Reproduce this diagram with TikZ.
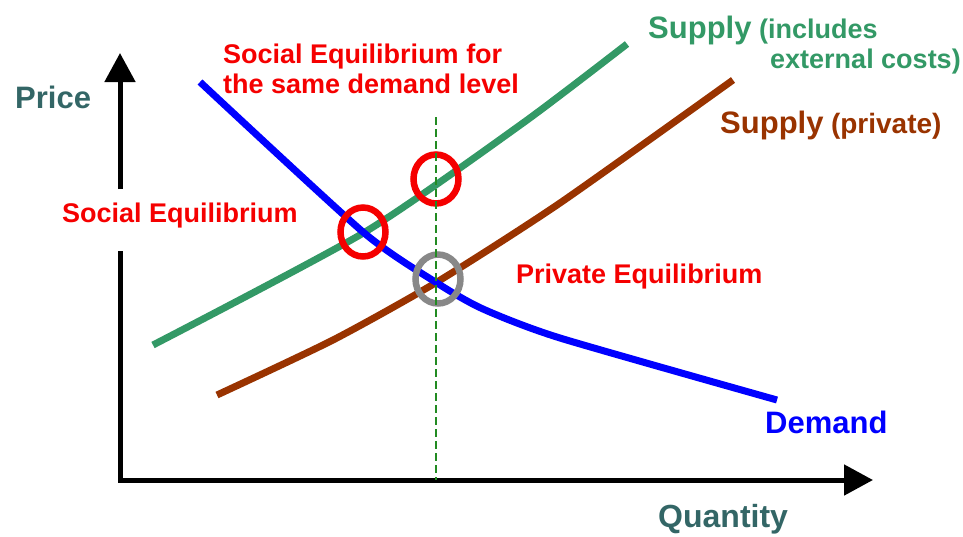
\documentclass[tikz,border=0pt]{standalone}
\usepackage{fontspec}
\setmainfont{Liberation Sans}
\usetikzlibrary{arrows.meta,shapes.geometric}
\definecolor{socgreen}{HTML}{339966}
\definecolor{privbrown}{HTML}{993300}
\definecolor{axislabel}{HTML}{336666}
\definecolor{eqred}{HTML}{F50000}
\definecolor{dashgreen}{HTML}{228B22}
\definecolor{demblue}{HTML}{0000FF}
\definecolor{ringgray}{HTML}{888888}
\begin{document}
\begin{tikzpicture}[x=1pt,y=-1pt,
  lbl/.style={inner sep=0pt, anchor=base west, font=\bfseries\fontsize{27}{30}\selectfont},
  biglbl/.style={inner sep=0pt, anchor=base west, font=\bfseries\fontsize{31}{36}\selectfont},
  curve/.style={line width=7pt, line cap=butt, line join=round},
  axis/.style={line width=5pt, line join=miter, -{Triangle[length=29pt,width=30pt]}},
  ring/.style={draw, ellipse, line width=6.5pt, minimum width=45pt, minimum height=49pt, inner sep=0pt}]
\useasboundingbox (0,0) rectangle (963,536);
% axes
\coordinate (O) at (120,480);
\coordinate (ygapbot) at (120,251);
\coordinate (ygaptop) at (120,189);
\coordinate (ytip) at (120,53);
\coordinate (xtip) at (873,480);
\draw[axis] (ygapbot) -- (O) -- (xtip);
\draw[axis] (ygaptop) -- (ytip);
% curves
\draw[curve, socgreen] plot[smooth, tension=0.4] coordinates {(153,345) (365,232) (523,123) (627,44)};
\draw[curve, privbrown] plot[smooth, tension=0.4] coordinates {(217,395) (333,340) (437,282) (560,203) (733,80)};
\draw[curve, demblue] plot[smooth, tension=0.4] coordinates {(200,82) (363,232) (437,283) (483,309) (560,338) (777,400)};
% rings
\node[ring, eqred] (socsame) at (436,179) {};
\node[ring, eqred] (soc) at (363,232) {};
\node[ring, ringgray] (priv) at (438,279) {};
% dashed quantity line
\coordinate (dtop) at (436,117);
\coordinate (dbot) at (436,480);
\draw[dashgreen, line width=2pt, dash pattern=on 8pt off 4pt] (dtop) -- (dbot);
% labels
\node[biglbl, axislabel] (price) at (15,108) {Price};
\node[biglbl, axislabel, font=\bfseries\fontsize{32}{36}\selectfont] (qty) at (658,527) {Quantity};
\node[biglbl, demblue] (demand) at (765,433) {Demand};
\node[lbl, eqred] (sameA) at (223,63) {Social Equilibrium for};
\node[lbl, eqred] (sameB) at (223,93) {the same demand level};
\node[lbl, eqred] (soclbl) at (62,222) {Social Equilibrium};
\node[lbl, eqred] (privlbl) at (516,283) {Private Equilibrium};
\node[lbl, socgreen] (supsoc) at (648,38) {{\fontsize{31}{36}\selectfont Supply} (includes};
\node[lbl, socgreen] (supsoc2) at (770,68) {external costs)};
\node[lbl, privbrown] (suppriv) at (720,133) {{\fontsize{31}{36}\selectfont Supply} {\fontsize{28}{30}\selectfont(private)}};
\end{tikzpicture}
\end{document}
